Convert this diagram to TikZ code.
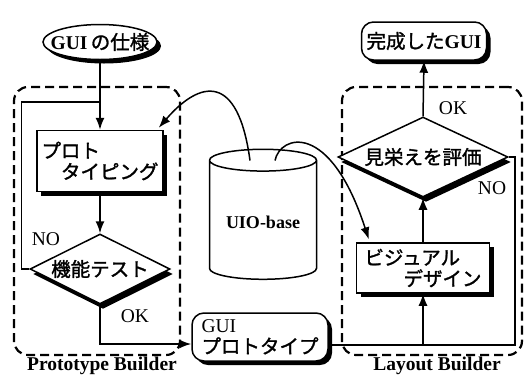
\documentclass[tikz,border=0pt]{standalone}
\usepackage{fontspec}
\setmainfont{Liberation Serif}
\newfontfamily\jpfont[FakeBold=1.5]{Noto Sans CJK JP}
\usetikzlibrary{arrows.meta,shapes.geometric,shadows}
\newcommand{\ja}[1]{{\jpfont #1}}

\begin{document}
\begin{tikzpicture}[x=1pt, y=-1pt, >={Latex[length=12pt,width=9pt]}, line width=1.5pt,
  every node/.style={font=\fontsize{19.5}{21}\selectfont},
  blackshadow/.style={drop shadow={shadow xshift=4pt, shadow yshift=-4pt, opacity=1, fill=black}},
  procbox/.style={draw, fill=white, blackshadow, align=left, inner sep=3pt},
  decision/.style={diamond, draw, fill=white, aspect=2, inner sep=0pt,
    drop shadow={shadow xshift=3pt, shadow yshift=-5pt, opacity=1, fill=black}},
  builderframe/.style={draw, line width=2.2pt, dash pattern=on 9pt off 5pt, rounded corners=14pt}]
  \useasboundingbox (0,0) rectangle (525,376);

  % Frames
  \node (protoframe) at (97,221) [builderframe, minimum width=166pt, minimum height=268pt] {};
  \node (layoutframe) at (432,221) [builderframe, minimum width=180pt, minimum height=268pt] {};
  \node (protoname) at (102,366) {\textbf{Prototype Builder}};
  \node (layoutname) at (437,366) {\textbf{Layout Builder}};

  % States
  \node (spec) at (100,42) [ellipse, draw, fill=white, blackshadow, minimum width=114pt, minimum height=35pt, inner xsep=-10pt, inner ysep=0pt] {\textbf{GUI}\,\ja{の仕様}};
  \node (proto) at (100,161) [procbox, minimum width=126pt, minimum height=61pt] {\ja{プロト}\\\hspace*{1em}\ja{タイピング}};
  \node (test) at (100,269) [decision, minimum width=140pt, minimum height=70pt] {\ja{機能テスト}};
  \node (gui) at (260,337) [procbox, rounded corners=12pt, minimum width=136pt, minimum height=48pt] {GUI\\\ja{プロトタイプ}};

  \node (db) at (263,222) [cylinder, shape border rotate=90, draw, aspect=0.27, minimum width=107pt, minimum height=130pt, font=\fontsize{18}{20}\selectfont] {\textbf{UIO-base}};

  \node (visual) at (423,268) [procbox, minimum width=133pt, minimum height=50pt] {\ja{ビジュアル}\\\hspace*{2em}\ja{デザイン}};
  \node (eval) at (423,157) [decision, minimum width=170pt, minimum height=80pt] {\ja{見栄えを評価}};
  \node (final) at (424,41) [procbox, rounded corners=12pt, minimum width=125pt, minimum height=38pt] {\ja{完成した}\textbf{GUI}};

  \coordinate (nojoin) at (100,102);
  \coordinate (loopjoin) at (423,345);

  % Edges
  \draw[->] (spec.south) -- (proto.north);
  \draw[->] (proto.south) -- (test.north);
  \draw (test.west) -- ++(-8,0) |- (nojoin);
  \draw[->] (test.south) |- ([yshift=-7pt]gui.west);
  \draw[->] ([yshift=-8pt]gui.east) -| (visual.south);
  \draw (eval.east) -- ++(6,0) |- (loopjoin);
  \draw[->] (visual.north) -- (eval.south);
  \draw[->] (eval.north) -- (final.south);

  % Database links
  \draw[->] ([xshift=-13pt,yshift=-12pt]db.top) .. controls (238,72) and (200,80) .. ([xshift=-5pt,yshift=2pt]proto.north east);
  \draw[->] ([xshift=12pt,yshift=-12pt]db.top) .. controls (280,135) and (330,120) .. ([xshift=13pt,yshift=3pt]visual.north west);

  % Labels
  \node (ok1) at (135,316) {OK};
  \node (no1) at (46,239) {NO};
  \node (ok2) at (453,108) {OK};
  \node (no2) at (492,188) {NO};
\end{tikzpicture}
\end{document}
